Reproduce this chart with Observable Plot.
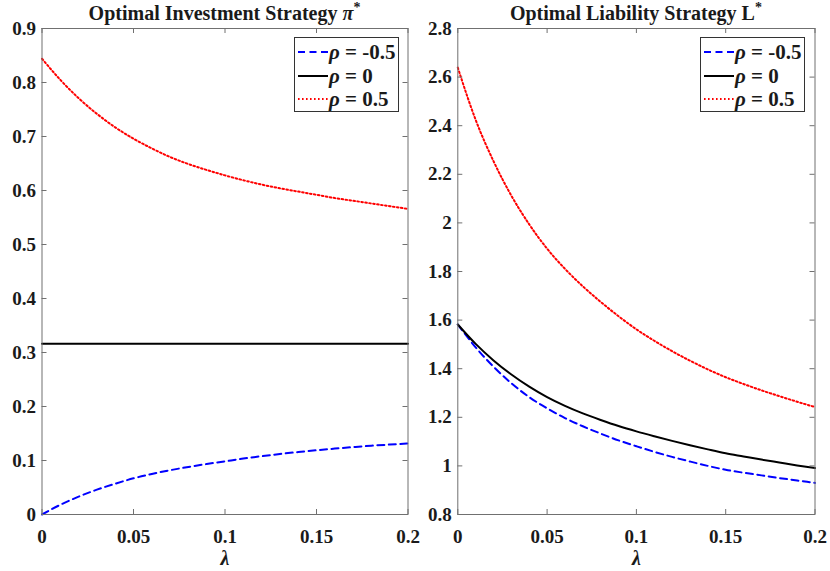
<!DOCTYPE html>
<html>
<head>
<meta charset="utf-8">
<script src="https://cdn.jsdelivr.net/npm/d3@7"></script>
<script src="https://cdn.jsdelivr.net/npm/@observablehq/plot@0.6"></script>
<style>
  html, body { margin: 0; padding: 0; background: #fff; }
  #wrap { position: relative; width: 830px; height: 571px; overflow: hidden; font-family: "Liberation Serif", "DejaVu Serif", serif; font-weight: bold; color: #1a1a1a; }
  .panel { position: absolute; top: 0; }
  .title { position: absolute; top: 1px; line-height: 24px; font-size: 20px; text-align: center; white-space: nowrap; }
  .title sup { font-size: 14px; vertical-align: 8px; line-height: 0; }
  .legend { position: absolute; background: #fff; border: 1px solid #333; box-sizing: border-box; }
  .legend .row { position: absolute; left: 0; height: 24px; line-height: 24px; font-size: 21px; white-space: nowrap; }
  .legend svg { position: absolute; left: 2px; top: 0; }
  .legend span { position: absolute; left: 34px; top: 0; }
</style>
</head>
<body>
<div id="wrap"></div>
<script>
// ---- data ----
const lambda = [0, 0.01, 0.02, 0.03, 0.04, 0.05, 0.06, 0.07, 0.08, 0.09, 0.10,
                0.11, 0.12, 0.13, 0.14, 0.15, 0.16, 0.17, 0.18, 0.19, 0.20];

// Optimal investment strategy pi*
const piNeg  = [0, 0.018, 0.033, 0.046, 0.057, 0.067, 0.075, 0.082, 0.088, 0.0935, 0.0985,
                0.1035, 0.108, 0.112, 0.1157, 0.119, 0.122, 0.1248, 0.1274, 0.1295, 0.1315];
const piZero = [0.316, 0.316, 0.316, 0.316, 0.316, 0.316, 0.316, 0.316, 0.316, 0.316, 0.316,
                0.316, 0.316, 0.316, 0.316, 0.316, 0.316, 0.316, 0.316, 0.316, 0.316];
const piPos  = [0.844, 0.805, 0.771, 0.742, 0.717, 0.696, 0.678, 0.662, 0.649, 0.638, 0.628,
                0.619, 0.611, 0.604, 0.598, 0.592, 0.586, 0.581, 0.576, 0.571, 0.566];

// Optimal liability strategy L*
const LNeg  = [1.582, 1.488, 1.408, 1.340, 1.283, 1.237, 1.197, 1.163, 1.133, 1.105, 1.081,
               1.058, 1.037, 1.018, 1.000, 0.984, 0.972, 0.961, 0.950, 0.940, 0.930];
const LZero = [1.582, 1.502, 1.434, 1.376, 1.326, 1.283, 1.247, 1.216, 1.189, 1.164, 1.142,
               1.122, 1.103, 1.085, 1.068, 1.052, 1.039, 1.026, 1.014, 1.002, 0.991];
const LPos  = [2.639, 2.424, 2.254, 2.112, 1.994, 1.894, 1.811, 1.739, 1.675, 1.616, 1.562,
               1.515, 1.472, 1.433, 1.397, 1.365, 1.337, 1.311, 1.287, 1.264, 1.242];

const seriesNames = ["ρ = -0.5", "ρ = 0", "ρ = 0.5"];
const xTicks = [0, 0.05, 0.1, 0.15, 0.2];
const piTicks = [0, 0.1, 0.2, 0.3, 0.4, 0.5, 0.6, 0.7, 0.8, 0.9];
const LTicks = [0.8, 1, 1.2, 1.4, 1.6, 1.8, 2, 2.2, 2.4, 2.6, 2.8];

// ---- styles ----
const styles = [
  {stroke: "#0000ff", strokeWidth: 2, strokeDasharray: "7,4.5"},
  {stroke: "#000000", strokeWidth: 2, strokeDasharray: null},
  {stroke: "#ff0000", strokeWidth: 2, strokeDasharray: "1.6,2.4"}
];
const fmt = d => String(+d.toFixed(2));
const axisColor = "#707070";
const H = 571;

function rows(vals) { return lambda.map((x, i) => ({lambda: x, v: vals[i]})); }

function panel({left, width, mL, mR, yDomain, yTicks, series}) {
  const mT = 28, mB = 57;
  const fw = width - mL - mR, fh = H - mT - mB;
  const marks = [];
  series.forEach((vals, i) => {
    const s = styles[i];
    marks.push(Plot.line(rows(vals), {x: "lambda", y: "v", curve: "monotone-x",
      stroke: s.stroke, strokeWidth: s.strokeWidth, strokeDasharray: s.strokeDasharray}));
  });
  marks.push(
    Plot.frame({stroke: axisColor, strokeWidth: 1}),
    // inward ticks on all four sides (box on)
    Plot.tickX(xTicks, {x: d => d, insetTop: fh - 5, stroke: axisColor}),
    Plot.tickX(xTicks, {x: d => d, insetBottom: fh - 5, stroke: axisColor}),
    Plot.tickY(yTicks, {y: d => d, insetRight: fw - 5, stroke: axisColor}),
    Plot.tickY(yTicks, {y: d => d, insetLeft: fw - 5, stroke: axisColor}),
    Plot.axisX({ticks: xTicks, tickSize: 0, tickPadding: 15, tickFormat: fmt, label: null, fill: "#1a1a1a"}),
    Plot.axisY({ticks: yTicks, tickSize: 0, tickPadding: 6, tickFormat: fmt, label: null, fill: "#1a1a1a"}),
    Plot.text(["λ"], {x: () => 0.1, frameAnchor: "bottom", lineAnchor: "bottom", dy: 50, text: d => d,
      fontStyle: "italic", fontSize: 20, fill: "#1a1a1a"})
  );
  const svg = Plot.plot({
    width, height: H,
    marginLeft: mL, marginRight: mR, marginTop: mT, marginBottom: mB,
    x: {domain: [0, 0.2]},
    y: {domain: yDomain},
    style: {fontFamily: "'Liberation Serif', 'DejaVu Serif', serif", fontWeight: "bold",
            fontSize: "19px", background: "transparent", overflow: "visible"},
    marks
  });
  svg.classList.add("panel");
  svg.style.left = left + "px";
  return svg;
}

const wrap = document.getElementById("wrap");
wrap.appendChild(panel({left: 0, width: 415, mL: 41.5, mR: 7.5, yDomain: [0, 0.9], yTicks: piTicks,
  series: [piNeg, piZero, piPos]}));
wrap.appendChild(panel({left: 415, width: 415, mL: 42.3, mR: 15.5, yDomain: [0.8, 2.8], yTicks: LTicks,
  series: [LNeg, LZero, LPos]}));

function addTitle(left, width, html) {
  const d = document.createElement("div");
  d.className = "title";
  d.style.left = left + "px";
  d.style.width = width + "px";
  d.innerHTML = html;
  wrap.appendChild(d);
}
addTitle(41.5, 366, 'Optimal Investment Strategy <i>π</i><sup>*</sup>');
addTitle(457.3, 357.2, 'Optimal Liability Strategy L<sup>*</sup>');

function addLegend(left) {
  const box = document.createElement("div");
  box.className = "legend";
  box.style.left = left + "px";
  box.style.top = "37px";
  box.style.width = "105px";
  box.style.height = "75px";
  seriesNames.forEach((name, i) => {
    const s = styles[i];
    const row = document.createElement("div");
    row.className = "row";
    row.style.top = (2 + i * 23.5) + "px";
    row.innerHTML = `<svg width="32" height="24"><line x1="1" x2="31" y1="12" y2="12" stroke="${s.stroke}" stroke-width="${s.strokeWidth}" ${s.strokeDasharray ? `stroke-dasharray="${s.strokeDasharray}"` : ""}/></svg>` +
      `<span><i>ρ</i>${name.slice(1)}</span>`;
    box.appendChild(row);
  });
  wrap.appendChild(box);
}
addLegend(294);
addLegend(700);
</script>
</body>
</html>
